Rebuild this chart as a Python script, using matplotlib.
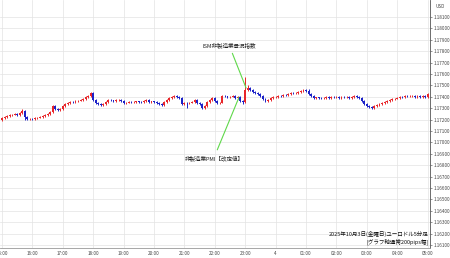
import numpy as np
import matplotlib
matplotlib.use("Agg")
import matplotlib.pyplot as plt

plt.rcParams['font.family'] = ['Noto Sans CJK JP', 'DejaVu Sans']

# EUR/USD 5-minute closes, 2025-10-03 15:00 - 04 05:00 (JST)
first_open = 1.17196
closes = [
    # 15:00
    1.17214, 1.17223, 1.17232, 1.17240, 1.17244, 1.17249, 1.17240, 1.17258, 1.17275, 1.17223, 1.17205, 1.17209,
    # 16:00
    1.17205, 1.17214, 1.17218, 1.17223, 1.17232, 1.17240, 1.17249, 1.17267, 1.17319, 1.17293, 1.17284, 1.17293,
    # 17:00
    1.17319, 1.17337, 1.17346, 1.17355, 1.17351, 1.17363, 1.17367, 1.17372, 1.17381, 1.17398, 1.17407, 1.17433,
    # 18:00
    1.17372, 1.17346, 1.17337, 1.17328, 1.17337, 1.17355, 1.17372, 1.17368, 1.17363, 1.17372, 1.17376, 1.17363,
    # 19:00
    1.17346, 1.17350, 1.17355, 1.17351, 1.17355, 1.17359, 1.17355, 1.17351, 1.17363, 1.17372, 1.17355, 1.17359,
    # 20:00
    1.17355, 1.17346, 1.17337, 1.17328, 1.17355, 1.17372, 1.17390, 1.17398, 1.17407, 1.17398, 1.17390, 1.17337,
    # 21:00
    1.17346, 1.17342, 1.17350, 1.17355, 1.17372, 1.17346, 1.17337, 1.17302, 1.17319, 1.17355, 1.17372, 1.17390,
    # 22:00
    1.17363, 1.17346, 1.17350, 1.17407, 1.17403, 1.17398, 1.17402, 1.17407, 1.17390, 1.17398, 1.17363, 1.17355,
    # 23:00
    1.17460, 1.17477, 1.17460, 1.17442, 1.17433, 1.17425, 1.17407, 1.17381, 1.17363, 1.17372, 1.17390, 1.17398,
    # 00:00
    1.17398, 1.17407, 1.17403, 1.17416, 1.17412, 1.17425, 1.17433, 1.17429, 1.17433, 1.17442, 1.17451, 1.17460,
    # 01:00
    1.17451, 1.17425, 1.17407, 1.17390, 1.17394, 1.17390, 1.17386, 1.17390, 1.17398, 1.17390, 1.17398, 1.17394,
    # 02:00
    1.17398, 1.17390, 1.17398, 1.17394, 1.17398, 1.17390, 1.17398, 1.17407, 1.17398, 1.17390, 1.17363, 1.17337,
    # 03:00
    1.17319, 1.17311, 1.17302, 1.17319, 1.17328, 1.17337, 1.17346, 1.17355, 1.17363, 1.17372, 1.17381, 1.17385,
    # 04:00
    1.17390, 1.17398, 1.17394, 1.17407, 1.17403, 1.17407, 1.17411, 1.17398, 1.17407, 1.17398, 1.17407, 1.17398,
    # 05:00
    1.17425,
]
# highs / lows that stand out from the normal short wicks
spike_highs = {8: 1.17290, 20: 1.17330, 35: 1.17445, 96: 1.17574, 97: 1.17500, 121: 1.17470}
spike_lows = {9: 1.17200, 73: 1.17300, 79: 1.17290, 95: 1.17340, 146: 1.17290}
wick = 0.00006

hour_labels = ["15:00", "16:00", "17:00", "18:00", "19:00", "20:00", "21:00", "22:00",
               "23:00", "4", "01:00", "02:00", "03:00", "04:00", "05:00"]
price_ticks = [1.18100 - 0.001 * k for k in range(21)]

n = len(closes)
t = np.arange(n) * 5 / 60.0
c = np.array(closes)
o = np.concatenate([[first_open], c[:-1]])
hi = np.maximum(o, c) + wick
lo = np.minimum(o, c) - wick
for k, v in spike_highs.items():
    hi[k] = v
for k, v in spike_lows.items():
    lo[k] = v

up_col = "#e8262a"
dn_col = "#1c22c8"
cols = np.where(c >= o, up_col, dn_col)

fig = plt.figure(figsize=(4.5, 2.58), dpi=100)
ax = fig.add_axes([0, 10 / 258, 430 / 450, 248 / 258])

ax.vlines(t, lo, hi, colors=cols, linewidth=0.7, zorder=3)
body = np.maximum(np.abs(c - o), 0.00003)
ax.bar(t, body, bottom=np.minimum(o, c), width=0.06, color=cols, linewidth=0, zorder=4)

ax.set_xlim(-0.066, 14.08)
ax.set_ylim(1.16074, 1.18249)

ax.set_xticks(range(len(hour_labels)))
ax.set_xticklabels(hour_labels)
ax.yaxis.tick_right()
ax.set_yticks(price_ticks)
ax.set_yticklabels(["%.5f" % p for p in price_ticks])
ax.tick_params(axis='both', labelsize=3.3, colors="#444444", length=1.2, width=0.4, pad=1.5)
ax.tick_params(axis='x', length=0, pad=2)

ax.grid(True, color="#e3e3e3", linewidth=0.5)
ax.set_axisbelow(True)
for s in ["top", "left"]:
    ax.spines[s].set_visible(False)
ax.spines["right"].set_color("#555555")
ax.spines["right"].set_linewidth(0.6)
ax.spines["bottom"].set_color("#999999")
ax.spines["bottom"].set_linewidth(0.6)

ax.text(1.012, 0.975, "USD", transform=ax.transAxes, fontsize=3.3, color="#444444", va="center")

green = "#5fd84a"
ax.annotate("ISM非製造業景況指数", xy=(8.03, 1.17477), xytext=(7.47, 1.17854),
            fontsize=4, ha="center", va="center", color="#222222",
            arrowprops=dict(arrowstyle="-", color=green, lw=0.8, shrinkA=2, shrinkB=0))
ax.annotate("非製造業PMI【改定値】", xy=(7.80, 1.17398), xytext=(6.97, 1.16863),
            fontsize=4, ha="center", va="center", color="#222222",
            arrowprops=dict(arrowstyle="-", color=green, lw=0.8, shrinkA=2, shrinkB=0))

ax.text(0.997, 0.055, "2025年10月3日(金曜日)ユーロドル5分足", transform=ax.transAxes,
        fontsize=4, ha="right", va="center", color="#111111")
ax.text(0.997, 0.025, "[グラフ軸通常200pips幅]", transform=ax.transAxes,
        fontsize=4, ha="right", va="center", color="#111111")

fig.savefig("out.png", dpi=100)
